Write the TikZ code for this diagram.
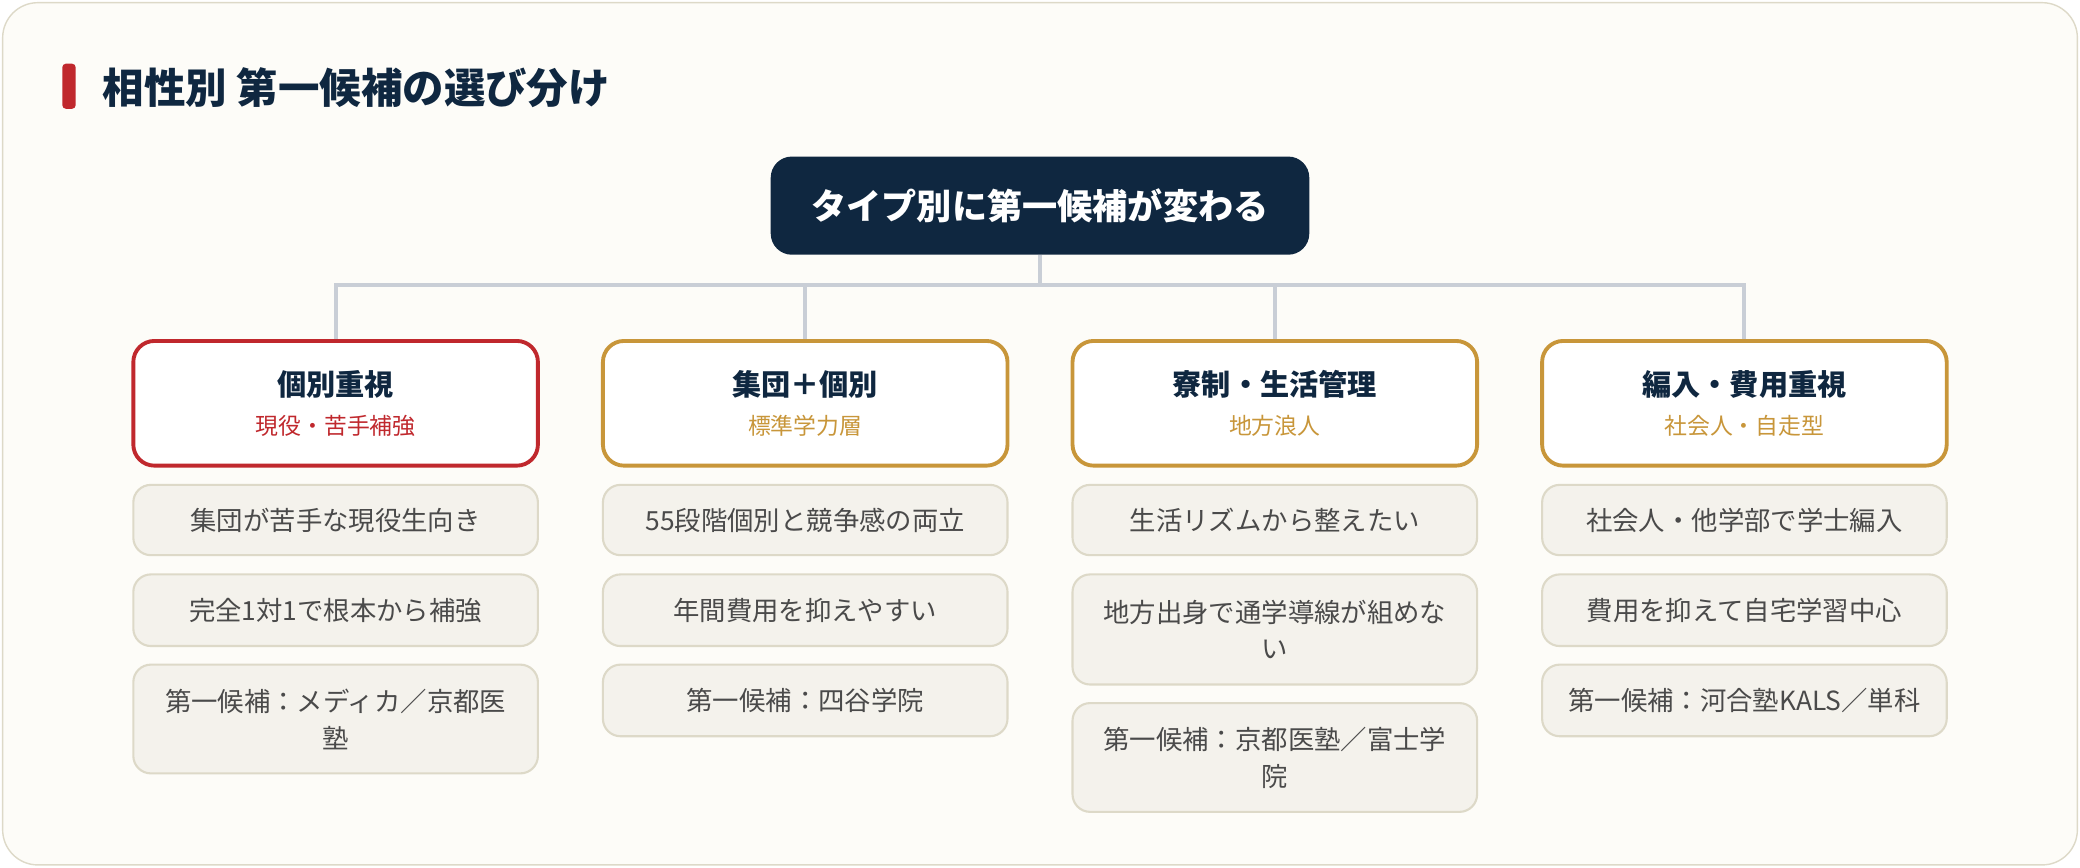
\documentclass[tikz,border=0pt]{standalone}
\usepackage{fontspec}
\setmainfont{Noto Sans CJK JP}
\usetikzlibrary{positioning}
\definecolor{navy}{HTML}{0F2740}
\definecolor{accred}{HTML}{C0282D}
\definecolor{gold}{HTML}{C8963A}
\definecolor{pagefill}{HTML}{FDFCF8}
\definecolor{itemfill}{HTML}{F4F2EC}
\definecolor{itemline}{HTML}{DDD9C8}
\definecolor{itemtext}{HTML}{4A4A4A}
\definecolor{conngray}{HTML}{C9CED6}
\def\pxu{0.013265cm}
\tikzset{
  head/.style={draw=gold, line width=1.1pt, fill=white, rounded corners=6pt,
    minimum width={305*\pxu}, minimum height={94*\pxu}, align=center},
  item/.style={draw=itemline, line width=0.6pt, fill=itemfill, rounded corners=5pt,
    minimum width={305*\pxu}, text width={272*\pxu}, align=center,
    font=\fontsize{7.5}{10.5}\selectfont, text=itemtext},
  conn/.style={draw=conngray, line width=1.1pt},
}
\newcommand\hd[2]{{\fontsize{8.3}{10}\selectfont\bfseries\color{navy}#1}\\[-1pt]{\fontsize{6.5}{8}\selectfont #2}}
\begin{document}
\begin{tikzpicture}[x=\pxu, y=-\pxu]
  \useasboundingbox (0,0) rectangle (1568,654);
  \filldraw[fill=pagefill, draw=itemline, rounded corners=10pt] (2,2) rectangle (1566,652);
  \fill[accred, rounded corners=1pt] (47,48) rectangle (57,82);
  \node[anchor=west, text=navy, font=\fontsize{11.8}{13}\selectfont\bfseries] (title) at (68,66) {相性別 第一候補の選び分け};

  % root
  \node[fill=navy, rounded corners=6pt, minimum width={406*\pxu}, minimum height={74*\pxu},
    text=white, font=\fontsize{10}{12}\selectfont\bfseries] (root) at (784,155) {タイプ別に第一候補が変わる};
  \coordinate (bus) at (784,215);

  % column heads
  \node[head, draw=accred, text=accred] (h1) at (253,304) {\hd{個別重視}{現役・苦手補強}};
  \node[head, text=gold] (h2) at (607,304) {\hd{集団＋個別}{標準学力層}};
  \node[head, text=gold] (h3) at (961,304) {\hd{寮制・生活管理}{地方浪人}};
  \node[head, text=gold] (h4) at (1315,304) {\hd{編入・費用重視}{社会人・自走型}};

  \draw[conn] (root.south) -- (bus);
  \foreach \h in {h1,h2,h3,h4}
    \draw[conn] (bus) -| (\h.north);

  % items
  \node[item, minimum height={53*\pxu}] (a1) at (253,392) {集団が苦手な現役生向き};
  \node[item, minimum height={54*\pxu}] (a2) at (253,460) {完全1対1で根本から補強};
  \node[item, minimum height={82*\pxu}] (a3) at (253,542) {第一候補：メディカ／京都医\\塾};

  \node[item, minimum height={53*\pxu}] (b1) at (607,392) {55段階個別と競争感の両立};
  \node[item, minimum height={54*\pxu}] (b2) at (607,460) {年間費用を抑えやすい};
  \node[item, minimum height={54*\pxu}] (b3) at (607,528) {第一候補：四谷学院};

  \node[item, minimum height={53*\pxu}] (c1) at (961,392) {生活リズムから整えたい};
  \node[item, minimum height={83*\pxu}] (c2) at (961,474.5) {地方出身で通学導線が組めな\\い};
  \node[item, minimum height={82*\pxu}] (c3) at (961,571) {第一候補：京都医塾／富士学\\院};

  \node[item, minimum height={53*\pxu}] (d1) at (1315,392) {社会人・他学部で学士編入};
  \node[item, minimum height={54*\pxu}] (d2) at (1315,460) {費用を抑えて自宅学習中心};
  \node[item, minimum height={54*\pxu}] (d3) at (1315,528) {第一候補：河合塾KALS／単科};
\end{tikzpicture}
\end{document}
